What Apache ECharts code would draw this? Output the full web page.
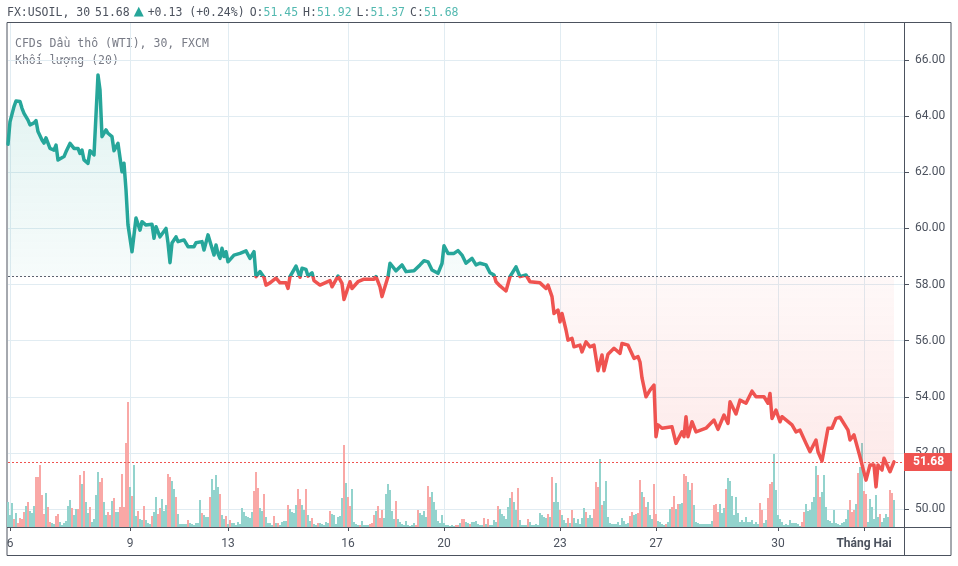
<!DOCTYPE html>
<html><head><meta charset="utf-8">
<style>html,body{margin:0;padding:0;background:#fff}#c{width:958px;height:566px}</style>
<script src="https://cdn.jsdelivr.net/npm/echarts@6/dist/echarts.min.js"></script>
</head><body><div id="c"></div>
<script>
const tickLabels = ['6','9','13','16','20','23','27','30','Tháng Hai'];
const tickSlots = [1,61,110,170,218,276,324,385,428];
const priceTicks = [50,52,54,56,58,60,62,64,66];
const basePrice = 58.28;
const lastPrice = 51.68;
const priceSlots = [0,1,2,3,4,6,7,8,9,10,11,13,14,15,17,18,19,21,23,24,25,28,29,31,33,35,36,37,38,40,41,43,44,45,46,47,49,50,52,53,55,57,58,59,60,62,64,66,67,69,72,73,74,76,79,80,81,82,84,85,88,90,93,94,97,98,100,103,104,105,106,107,108,109,110,113,116,119,121,123,124,126,128,129,131,134,136,139,140,141,144,146,147,149,150,152,153,156,161,162,165,167,168,171,172,175,178,183,184,186,187,190,191,194,197,199,203,206,208,210,212,215,217,218,220,223,225,227,229,232,234,236,239,241,243,244,246,249,251,254,256,259,261,266,269,270,272,273,275,276,277,279,280,282,283,286,287,289,291,293,295,297,298,300,303,306,307,310,313,315,316,317,319,321,323,324,325,327,332,334,337,338,339,340,342,344,349,353,355,358,360,361,364,366,369,372,374,378,380,381,382,384,386,387,392,394,396,399,401,404,405,407,410,412,414,416,420,421,423,426,429,431,433,434,435,437,438,441,443];
const priceValues = [63.00,63.80,63.86,64.34,64.54,64.52,64.28,64.10,64.11,63.86,63.69,63.76,63.84,63.45,63.15,63.04,63.23,62.85,62.79,62.97,62.44,62.56,62.73,63.03,62.85,62.85,62.67,62.79,62.44,62.32,62.77,62.62,62.67,65.47,64.93,63.27,63.51,63.39,63.27,62.77,63.03,62.02,62.32,61.37,60.12,59.17,60.37,59.94,60.24,60.12,60.15,59.65,60.06,59.70,60.00,59.48,58.78,59.48,59.70,59.53,59.59,59.35,59.35,59.49,59.53,59.23,59.77,59.05,59.41,59.10,58.93,59.29,59.00,59.17,58.81,59.05,59.11,59.20,58.93,59.17,58.28,58.46,58.26,57.98,58.06,58.23,58.06,58.06,57.86,58.28,58.66,58.26,58.58,58.54,58.30,58.42,58.14,57.98,58.14,57.92,58.30,58.04,57.47,58.10,57.86,58.10,58.19,58.19,58.28,57.92,57.57,58.28,58.76,58.49,58.70,58.46,58.49,58.70,58.85,58.81,58.52,58.40,58.75,59.38,59.11,59.11,59.21,59.05,58.76,58.93,58.70,58.76,58.70,58.42,58.34,58.10,57.95,57.77,58.28,58.63,58.28,58.34,58.10,58.06,57.86,57.98,57.57,56.97,57.09,56.67,56.97,56.38,56.02,56.08,55.78,55.84,55.60,55.96,55.78,55.84,54.93,55.49,54.93,55.52,55.73,55.55,55.90,55.84,55.37,55.43,55.24,54.67,54.00,54.24,54.42,52.58,53.00,52.88,52.93,52.34,52.75,52.58,53.29,52.58,53.11,52.75,52.88,53.17,52.84,53.35,53.05,53.82,53.39,53.88,53.77,54.20,54.00,54.00,53.77,54.12,53.23,53.53,53.11,53.29,53.00,52.75,52.81,52.34,52.04,52.46,52.04,51.71,52.88,52.88,53.23,53.27,52.81,52.46,52.64,51.86,51.03,51.57,51.57,50.79,51.57,51.39,51.81,51.33,51.68];
// volume per slot; a negative sign marks a falling (red) bar
const volumes = [
25,12,24,-8,14,-4,-9,-8,-15,21,
-25,16,14,21,-50,-50,-62,-32,-13,34,
-20,-5,4,3,-11,-13,5,2,4,6,
21,27,-19,12,18,-18,-52,43,-56,25,
14,-20,5,8,32,55,-45,-49,25,12,
-15,-12,26,-29,15,15,-20,-53,-20,-84,
-125,40,-31,62,11,-16,8,7,-21,7,
4,3,-11,15,30,-13,-19,28,16,22,
-53,-50,46,38,-30,13,3,3,3,3,
-7,4,3,2,4,4,27,-14,12,10,
10,-30,48,37,52,40,-33,12,8,-11,
3,-7,4,4,2,5,3,19,15,11,
10,9,15,-36,-55,-39,19,16,-33,10,
4,4,2,-11,4,-4,2,5,6,6,
-22,18,15,14,22,-38,-28,22,17,-38,
12,6,-9,3,2,-4,4,3,2,5,
4,-16,13,12,3,10,11,29,-82,44,
-30,-21,38,5,3,2,-2,6,2,2,
2,-3,-4,-12,16,-21,-9,-17,9,33,
43,37,16,8,-26,8,5,3,2,6,
2,1,2,4,-2,-17,14,12,16,10,
-41,-30,35,25,17,6,4,12,4,2,
2,1,2,1,-2,-2,4,-8,-8,5,
4,-3,5,5,6,3,2,2,-9,3,
-8,2,2,7,5,-21,18,13,11,8,
20,29,-35,25,17,-39,7,2,2,2,
-8,5,2,2,3,2,14,12,10,9,
-13,10,-50,25,44,25,-17,12,7,4,
-9,4,-17,9,4,8,3,9,19,-15,
9,12,9,-18,-45,-40,68,-22,26,46,
10,4,3,3,3,5,2,9,6,3,
4,-11,-15,12,13,-14,
-47,35,-30,-20,25,12,8,-43,-13,6,
5,3,2,-3,5,18,-20,-31,18,-23,
23,24,-53,-51,45,37,-44,22,5,4,
3,3,3,3,3,3,6,-22,-23,-15,
23,14,19,-38,49,46,31,12,30,14,
5,7,5,10,5,5,7,3,5,3,
-24,-17,4,7,-29,-43,-45,73,37,12,
8,5,2,3,2,7,4,4,4,3,
1,-5,-15,23,16,17,25,30,61,-52,
-30,35,52,20,7,6,4,17,4,3,
2,4,5,8,17,-27,-15,-17,23,-54,
60,84,-36,-33,5,28,20,8,32,10,
-13,5,9,13,10,-37,-34,27];
const slotCount = 449;

const UP='#26a69a', DOWN='#ef5350', INK='#4c525e', GRID='#e1ecf2';
const MONO='"DejaVu Sans Mono",monospace', SANS='Roboto,sans-serif';
const categories = Array.from({length:slotCount},()=>'');
tickSlots.forEach((s,i)=>{categories[s]=tickLabels[i]});
const isTick = (i,v)=>v!=='';
const chart = echarts.init(document.getElementById('c'),null,{renderer:'canvas'});
const areaFill = new echarts.graphic.LinearGradient(0,100,0,480,[
 {offset:0,color:'rgba(38,166,154,0.13)'},{offset:0.463,color:'rgba(38,166,154,0.04)'},
 {offset:0.463,color:'rgba(239,83,80,0.04)'},{offset:1,color:'rgba(239,83,80,0.13)'}],true);
const lineFill = new echarts.graphic.LinearGradient(0,100,0,480,[
 {offset:0,color:UP},{offset:0.463,color:UP},{offset:0.463,color:DOWN},{offset:1,color:DOWN}],true);
const plain = (c)=>({fontFamily:MONO,fontSize:11.5,fontWeight:'normal',color:c});
chart.setOption({
 animation:false,
 title:{left:7,top:4,padding:0,
  text:'{k|FX:USOIL, 30} {k|'+lastPrice.toFixed(2)+'}{t|▲}{k|+0.13 (+0.24%)} {k|O:}{v|51.45} {k|H:}{v|51.92} {k|L:}{v|51.37} {k|C:}{v|51.68}',
  textStyle:{fontWeight:'normal',rich:{k:plain(INK),v:plain('#53b9b0'),
    t:{fontFamily:'"DejaVu Sans",sans-serif',fontSize:13,color:UP,padding:[0,4,2,4]}}},
 },
 grid:{left:8,right:54,top:23,bottom:39,show:false},
 xAxis:{type:'category',data:categories,boundaryGap:false,
  axisLine:{show:false},
  axisTick:{show:true,interval:isTick,length:4,lineStyle:{color:INK}},
  axisLabel:{show:true,interval:isTick,color:INK,fontFamily:SANS,fontSize:12,margin:11,hideOverlap:false,
   formatter:v=>v==='Tháng Hai'?'{m|'+v+'}':v,rich:{m:{fontFamily:SANS,fontSize:12,fontWeight:'bold',color:INK}}},
  splitLine:{show:true,interval:isTick,lineStyle:{color:GRID,width:1}}},
 yAxis:[
  {type:'value',position:'right',min:49.36,max:67.32,scale:true,
   axisLine:{show:false},
   axisTick:{show:true,length:5,customValues:priceTicks,lineStyle:{color:INK}},
   axisLabel:{color:INK,fontFamily:SANS,fontSize:12,margin:11,padding:[2,0,0,0],customValues:priceTicks,formatter:v=>v.toFixed(2)},
   splitLine:{show:true,lineStyle:{color:GRID,width:1}}},
  {type:'value',show:false,min:0,max:504,splitLine:{show:false}}
 ],
 series:[
  {name:'Khối lượng',type:'bar',yAxisIndex:1,barWidth:2,z:2,silent:true,
   data:volumes.map(v=>({value:Math.abs(v),itemStyle:{color:v<0?'#f9a8a6':'#93d3cd'}}))},
  {name:'USOIL',type:'line',yAxisIndex:0,z:3,showSymbol:false,symbol:'none',sampling:null,
   lineStyle:{width:3.5,join:'round',cap:'round',color:lineFill},
   areaStyle:{origin:basePrice,color:areaFill,opacity:1},
   data:priceSlots.map((s,i)=>[s,priceValues[i]]),
   markLine:{silent:true,symbol:'none',animation:false,z:5,data:[
    {yAxis:basePrice,lineStyle:{color:'#5b6270',type:[2,2],width:1},label:{show:false}},
    {yAxis:lastPrice,lineStyle:{color:DOWN,type:[2,2],width:1},
     label:{show:true,position:'end',distance:0,formatter:()=>lastPrice.toFixed(2),backgroundColor:DOWN,color:'#fff',
      fontFamily:SANS,fontSize:12,fontWeight:'bold',padding:[3,8,3,9],lineHeight:12}}
   ]}}
 ],
 graphic:[
  {type:'rect',silent:true,z:1,shape:{x:7,y:22.5,width:944,height:533},style:{fill:'none',stroke:INK,lineWidth:1}},
  {type:'line',silent:true,z:1,shape:{x1:904.5,y1:22.5,x2:904.5,y2:555.5},style:{stroke:INK,lineWidth:1}},
  {type:'line',silent:true,z:1,shape:{x1:7,y1:527.5,x2:951,y2:527.5},style:{stroke:INK,lineWidth:1}},
  {type:'text',silent:true,left:15,top:38,style:{text:'CFDs Dầu thô (WTI), 30, FXCM',fontFamily:MONO,fontSize:11.5,fill:'#787b86'}},
  {type:'text',silent:true,left:15,top:55,style:{text:'Khối lượng (20)',fontFamily:MONO,fontSize:11.5,fill:'#787b86'}}
 ]
});
</script></body></html>
